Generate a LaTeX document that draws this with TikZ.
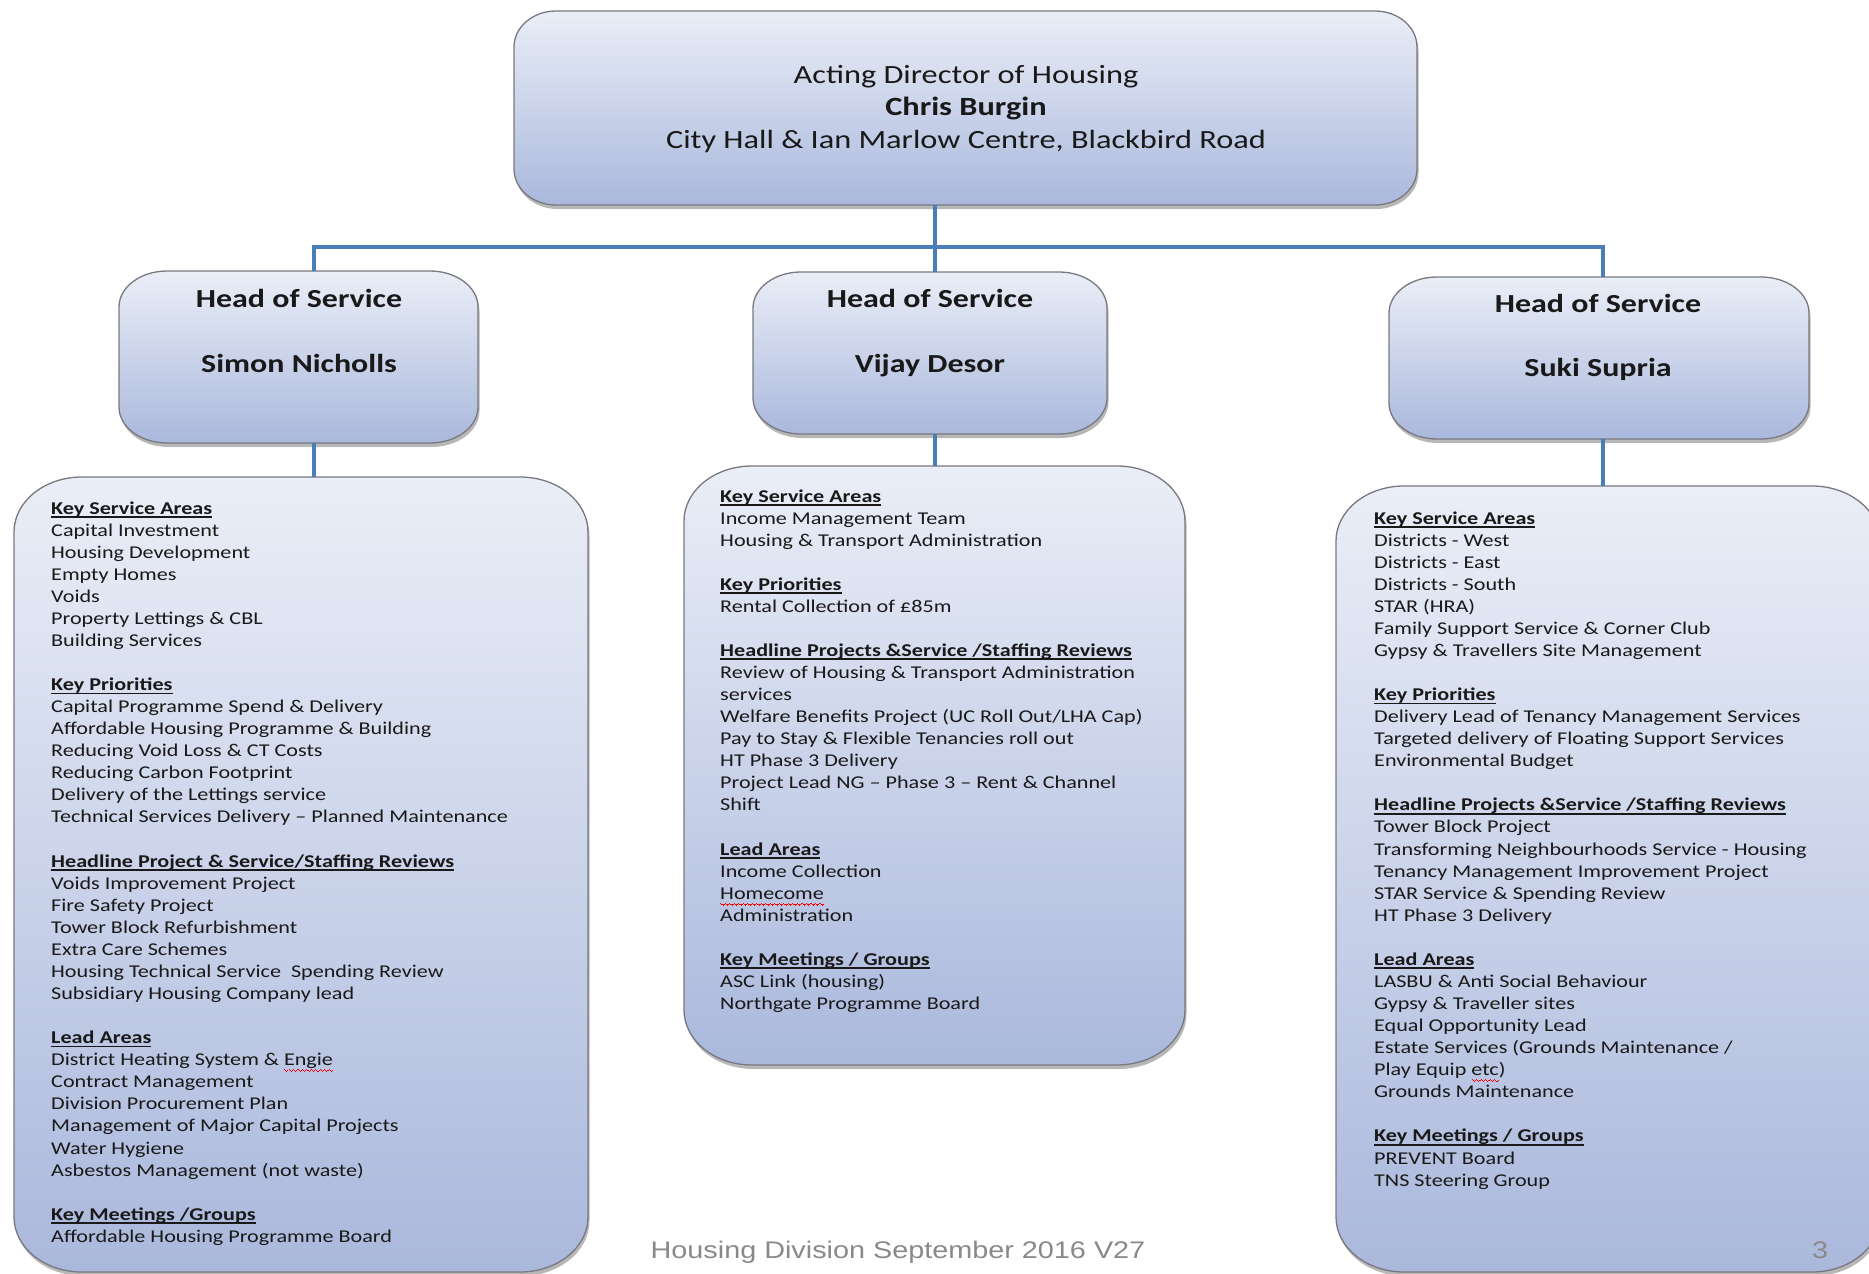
\documentclass[tikz,border=0pt]{standalone}
\usepackage{fontspec}
\setmainfont{Carlito}[FakeStretch=1.23]
\newfontfamily\footfont{Liberation Sans}[FakeStretch=1.2]
\usetikzlibrary{shadows,calc}
\newcommand\hd[1]{\setbox0\hbox{\bfseries #1}\rlap{\vrule height -2pt depth 3.6pt width \wd0}\box0}
\newcommand\wavebit{\hbox{\vrule height-3.4pt depth4.5pt width1.1pt\vrule height-4.3pt depth5.4pt width1.1pt\vrule height-5.2pt depth6.3pt width1.1pt\vrule height-4.3pt depth5.4pt width1.1pt}}
\newcommand\squig[1]{\setbox0\hbox{#1}\rlap{\smash{\textcolor{red}{\hbox to\wd0{\xleaders\wavebit\hfill}}}}\box0}
\definecolor{boxtop}{RGB}{234,238,247}
\definecolor{boxbot}{RGB}{170,184,220}
\definecolor{linkblue}{RGB}{74,126,187}
\definecolor{textc}{RGB}{25,25,25}
\definecolor{footgray}{RGB}{137,137,137}
\definecolor{edgegray}{RGB}{120,120,128}
\newcommand\ebox[3]{%
  \path[boxsty] ($(#1.north west)+(#2,0)$) -- ($(#1.north east)+(-#2,0)$)
    arc[start angle=270,end angle=360,x radius=#2,y radius=#3]
    -- ($(#1.south east)+(0,-#3)$)
    arc[start angle=0,end angle=90,x radius=#2,y radius=#3]
    -- ($(#1.south west)+(#2,0)$)
    arc[start angle=90,end angle=180,x radius=#2,y radius=#3]
    -- ($(#1.north west)+(0,#3)$)
    arc[start angle=180,end angle=270,x radius=#2,y radius=#3] -- cycle;}
\begin{document}
\begin{tikzpicture}[x=1pt,y=-1pt,
  boxsty/.style={draw=edgegray, line width=1.3pt, top color=boxtop, bottom color=boxbot,
    drop shadow={shadow xshift=1.5pt, shadow yshift=-4pt, opacity=0.35, fill=black!80}},
  area/.style={inner sep=0pt, outer sep=0pt, draw=none},
  conn/.style={draw=linkblue, line width=4pt},
  toptext/.style={anchor=base, inner sep=0pt, text=textc, font=\fontsize{26.3}{32}\selectfont},
  headtext/.style={anchor=base, inner sep=0pt, text=textc, font=\fontsize{26}{32}\selectfont\bfseries},
  body/.style={anchor=base west, inner sep=0pt, text=textc, font=\fontsize{18}{22}\selectfont},
  foot/.style={anchor=base, inner sep=0pt, text=footgray, font=\footfont\fontsize{24}{28}\selectfont}]
\useasboundingbox (0,0) rectangle (1869,1274);
\fill[white] (0,0) rectangle (1869,1274);
\clip (0,0) rectangle (1869,1274);

% boxes
\node[area, minimum width=903pt, minimum height=194pt] (top) at (965.5,108) {};
\node[area, minimum width=359pt, minimum height=172pt] (headL) at (298.5,357) {};
\node[area, minimum width=354pt, minimum height=162pt] (headM) at (930,353) {};
\node[area, minimum width=420pt, minimum height=162pt] (headR) at (1599,358) {};
\node[area, minimum width=574pt, minimum height=795pt] (detL) at (301,874.5) {};
\node[area, minimum width=501pt, minimum height=599pt] (detM) at (934.5,765.5) {};
\node[area, minimum width=544pt, minimum height=786pt] (detR) at (1608,879) {};
\ebox{top}{42}{36}
\ebox{headL}{48}{36}
\ebox{headM}{48}{36}
\ebox{headR}{48}{36}
\ebox{detL}{68}{55}
\ebox{detM}{68}{55}
\ebox{detR}{68}{55}

% connectors
\coordinate (busL) at (313.5,247);
\coordinate (busM) at (934.5,247);
\coordinate (busR) at (1603,247);
\draw[conn] (top.south -| busM) -- (busM);
\draw[conn] (busL |- headL.north) -- (busL) -- (busR) -- (busR |- headR.north);
\draw[conn] (busM) -- (busM |- headM.north);
\draw[conn] (headL.south -| busL) -- (detL.north -| busL);
\draw[conn] (headM.south -| busM) -- (detM.north -| busM);
\draw[conn] (headR.south -| busR) -- (detR.north -| busR);

% top text
\node[toptext] (t1) at (966,83) {Acting Director of Housing};
\node[toptext] (t2) at (966,115.5) {\textbf{Chris Burgin}};
\node[toptext] (t3) at (966,148) {City Hall \& Ian Marlow Centre, Blackbird Road};

% heads
\node[headtext] (hL1) at (299,307) {Head of Service};
\node[headtext] (hL2) at (299,372) {Simon Nicholls};
\node[headtext] (hM1) at (930,307) {Head of Service};
\node[headtext] (hM2) at (930,372) {Vijay Desor};
\node[headtext] (hR1) at (1598,312) {Head of Service};
\node[headtext] (hR2) at (1598,376) {Suki Supria};

% left details
\foreach \t [count=\i] in {
 {\hd{Key Service Areas}}, Capital Investment, Housing Development, Empty Homes, Voids,
 Property Lettings \& CBL, Building Services, {},
 {\hd{Key Priorities}}, Capital Programme Spend \& Delivery, Affordable Housing Programme \& Building,
 Reducing Void Loss \& CT Costs, Reducing Carbon Footprint, Delivery of the Lettings service,
 Technical Services Delivery – Planned Maintenance, {},
 {\hd{Headline Project \& Service/Staffing Reviews}}, Voids Improvement Project, Fire Safety Project,
 Tower Block Refurbishment, Extra Care Schemes, Housing Technical Service\ \ Spending Review,
 Subsidiary Housing Company lead, {},
 {\hd{Lead Areas}}, {District Heating System \& \squig{Engie}}, Contract Management,
 Division Procurement Plan, Management of Major Capital Projects, Water Hygiene,
 Asbestos Management (not waste), {},
 {\hd{Key Meetings /Groups}}, Affordable Housing Programme Board}
 \node[body] (L\i) at (51,{514+22.07*(\i-1)}) {\t};

% middle details
\foreach \t [count=\i] in {
 {\hd{Key Service Areas}}, Income Management Team, Housing \& Transport Administration, {},
 {\hd{Key Priorities}}, Rental Collection of £85m, {},
 {\hd{Headline Projects \&Service /Staffing Reviews}}, Review of Housing \& Transport Administration,
 services, Welfare Benefits Project (UC Roll Out/LHA Cap), Pay to Stay \& Flexible Tenancies roll out,
 HT Phase 3 Delivery, Project Lead NG – Phase 3 – Rent \& Channel, Shift, {},
 {\hd{Lead Areas}}, Income Collection, {\squig{Homecome}}, Administration, {},
 {\hd{Key Meetings / Groups}}, ASC Link (housing), Northgate Programme Board}
 \node[body] (M\i) at (720,{502+22.07*(\i-1)}) {\t};

% right details
\foreach \t [count=\i] in {
 {\hd{Key Service Areas}}, Districts - West, Districts - East, Districts - South, STAR (HRA),
 Family Support Service \& Corner Club, Gypsy \& Travellers Site Management, {},
 {\hd{Key Priorities}}, Delivery Lead of Tenancy Management Services,
 Targeted delivery of Floating Support Services, Environmental Budget, {},
 {\hd{Headline Projects \&Service /Staffing Reviews}}, Tower Block Project,
 Transforming Neighbourhoods Service - Housing, Tenancy Management Improvement Project,
 STAR Service \& Spending Review, HT Phase 3 Delivery, {},
 {\hd{Lead Areas}}, LASBU \& Anti Social Behaviour, Gypsy \& Traveller sites, Equal Opportunity Lead,
 Estate Services (Grounds Maintenance /, {Play Equip \squig{etc})}, Grounds Maintenance, {},
 {\hd{Key Meetings / Groups}}, PREVENT Board, TNS Steering Group}
 \node[body] (R\i) at (1374,{524+22.07*(\i-1)}) {\t};

% footer
\node[foot] (foot) at (898,1258) {Housing Division September 2016 V27};
\node[foot] (page) at (1820,1258) {3};
\end{tikzpicture}
\end{document}
